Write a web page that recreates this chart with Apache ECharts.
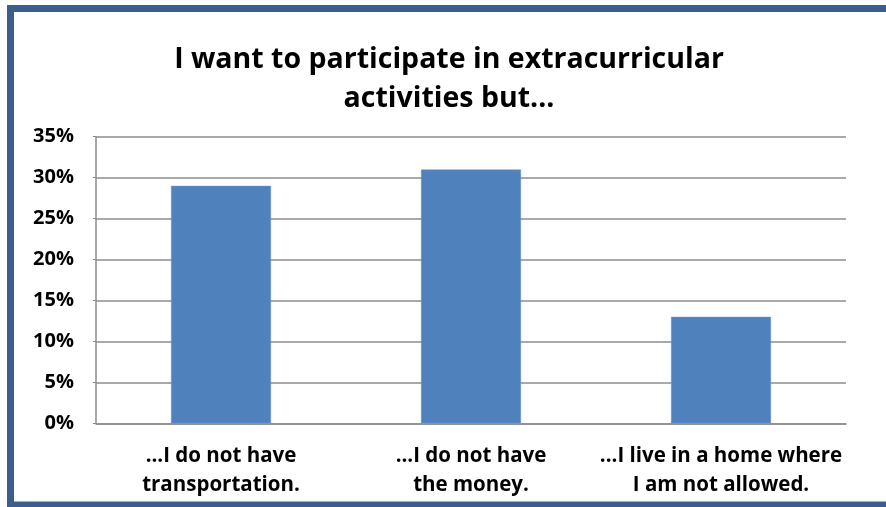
<!DOCTYPE html>
<html><head><meta charset="utf-8">
<script src="https://cdn.jsdelivr.net/npm/echarts@6/dist/echarts.min.js"></script>
<style>html,body{margin:0;padding:0;background:#fff}#c{width:886px;height:507px}</style>
</head><body><div id="c"></div>
<script>
const categories = ["...I do not have\ntransportation.", "...I do not have\nthe money.", "...I live in a home where\nI am not allowed."];
const values = [29, 31, 13];
const titleText = "I want to participate in extracurricular\nactivities but...";
const yTicks = [0, 5, 10, 15, 20, 25, 30, 35];

const chart = echarts.init(document.getElementById('c'), null, {renderer: 'canvas'});
const font = "'Open Sans', sans-serif";
chart.setOption({
  animation: false,
  backgroundColor: '#fff',
  title: {
    text: titleText, left: 444, top: 35, textAlign: 'center',
    textStyle: {fontFamily: font, fontWeight: 'bold', fontSize: 28.5, lineHeight: 39, color: '#000'}
  },
  grid: {left: 96, right: 40, top: 136.7, bottom: 83.7, containLabel: false},
  xAxis: {
    type: 'category', data: categories,
    axisLine: {show: true, lineStyle: {color: '#8c8c8c', width: 1.5}},
    axisTick: {show: false},
    axisLabel: {fontFamily: font, fontWeight: 'bold', fontSize: 20.5, color: '#000', lineHeight: 29, margin: 18, interval: 0}
  },
  yAxis: {
    type: 'value', min: yTicks[0], max: yTicks[yTicks.length - 1], interval: 5,
    axisLine: {show: true, lineStyle: {color: '#8c8c8c', width: 1.5}},
    axisTick: {show: true, length: 3, lineStyle: {color: '#8c8c8c'}},
    splitLine: {show: true, lineStyle: {color: '#8c8c8c', width: 1.5}},
    axisLabel: {formatter: v => v + '%', fontFamily: font, fontWeight: 'bold', fontSize: 20, color: '#000', margin: 22}
  },
  series: [{
    type: 'bar', data: values, barWidth: '40%',
    itemStyle: {color: '#4F81BD', borderColor: '#6f9bd0', borderWidth: 0.5}
  }],
  graphic: [{
    type: 'rect', z: 100,
    shape: {x: 10.5, y: 8.5, width: 900, height: 496.5},
    style: {fill: null, stroke: '#3A5F8F', lineWidth: 7}
  }]
});
</script></body></html>
